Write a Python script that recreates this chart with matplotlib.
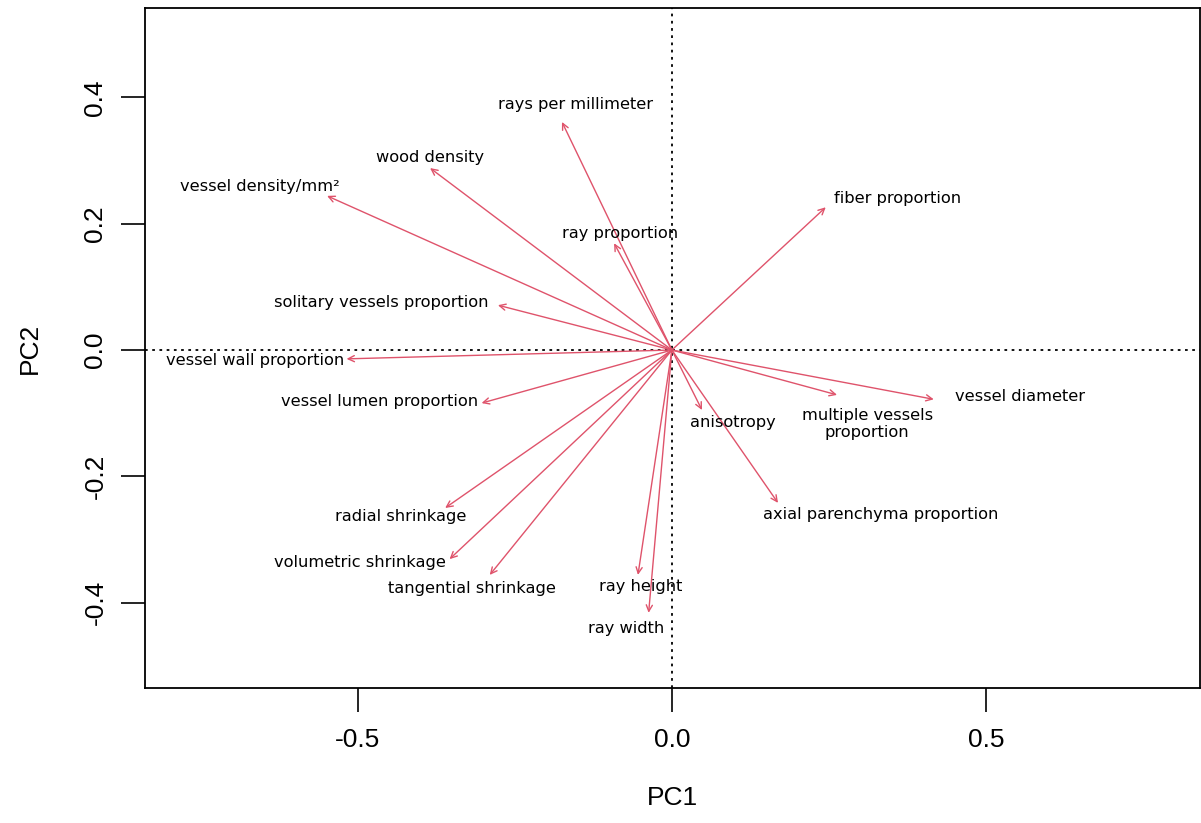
import matplotlib
matplotlib.use("Agg")
import matplotlib.pyplot as plt

# loadings of each variable on the first two principal components
variables = [
    "rays per millimeter", "wood density", "vessel density/mm\u00b2",
    "fiber proportion", "ray proportion", "solitary vessels proportion",
    "vessel wall proportion", "vessel lumen proportion", "vessel diameter",
    "multiple vessels\nproportion", "anisotropy", "axial parenchyma proportion",
    "radial shrinkage", "volumetric shrinkage", "tangential shrinkage",
    "ray height", "ray width",
]
pc1 = [-0.175, -0.385, -0.549, 0.245, -0.092, -0.277, -0.518, -0.303, 0.417,
       0.263, 0.048, 0.169, -0.361, -0.354, -0.290, -0.054, -0.037]
pc2 = [0.361, 0.288, 0.244, 0.226, 0.169, 0.071, -0.014, -0.084, -0.078,
       -0.071, -0.095, -0.242, -0.250, -0.331, -0.356, -0.356, -0.416]

# where each label sits (data coords)
label_x = [-0.154, -0.385, -0.656, 0.360, -0.083, -0.463, -0.664, -0.465, 0.554,
           0.311, 0.097, 0.333, -0.432, -0.497, -0.318, -0.049, -0.073]
label_y = [0.388, 0.305, 0.259, 0.240, 0.184, 0.076, -0.017, -0.081, -0.074,
           -0.117, -0.114, -0.261, -0.264, -0.337, -0.378, -0.375, -0.440]

arrow_col = "#DF536B"

fig = plt.figure(figsize=(12.01, 8.23), dpi=100)
ax = fig.add_axes([0.1207, 0.164, 0.8785, 0.826])

ax.axhline(0, color="black", lw=1.3, ls=(0, (1.5, 2.5)), zorder=1)
ax.axvline(0, color="black", lw=1.3, ls=(0, (1.5, 2.5)), zorder=1)

for x, y in zip(pc1, pc2):
    ax.annotate("", xy=(x, y), xytext=(0, 0),
                arrowprops=dict(arrowstyle="->,head_length=0.45,head_width=0.22",
                                color=arrow_col, lw=1.0, shrinkA=0, shrinkB=0),
                zorder=2)

for name, lx, ly in zip(variables, label_x, label_y):
    ax.text(lx, ly, name, ha="center", va="center", fontsize=11.7,
            family="DejaVu Sans", color="black", linespacing=1.1, zorder=3)

ax.set_xlim(-0.839, 0.841)
ax.set_ylim(-0.535, 0.541)
ax.set_xticks([-0.5, 0.0, 0.5])
ax.set_xticklabels(["-0.5", "0.0", "0.5"])
ax.set_yticks([-0.4, -0.2, 0.0, 0.2, 0.4])
ax.set_yticklabels(["-0.4", "-0.2", "0.0", "0.2", "0.4"], rotation=90, va="center")

ax.tick_params(length=17, width=1.2, labelsize=19, pad=12)
ax.tick_params(axis="y", pad=10)
for lab in ax.get_xticklabels() + ax.get_yticklabels():
    lab.set_family("Liberation Sans")
for s in ax.spines.values():
    s.set_linewidth(1.3)

ax.set_xlabel("PC1", fontsize=19, family="Liberation Sans", labelpad=24)
ax.set_ylabel("PC2", fontsize=19, family="Liberation Sans", labelpad=30)

fig.savefig("out.png", dpi=100)
